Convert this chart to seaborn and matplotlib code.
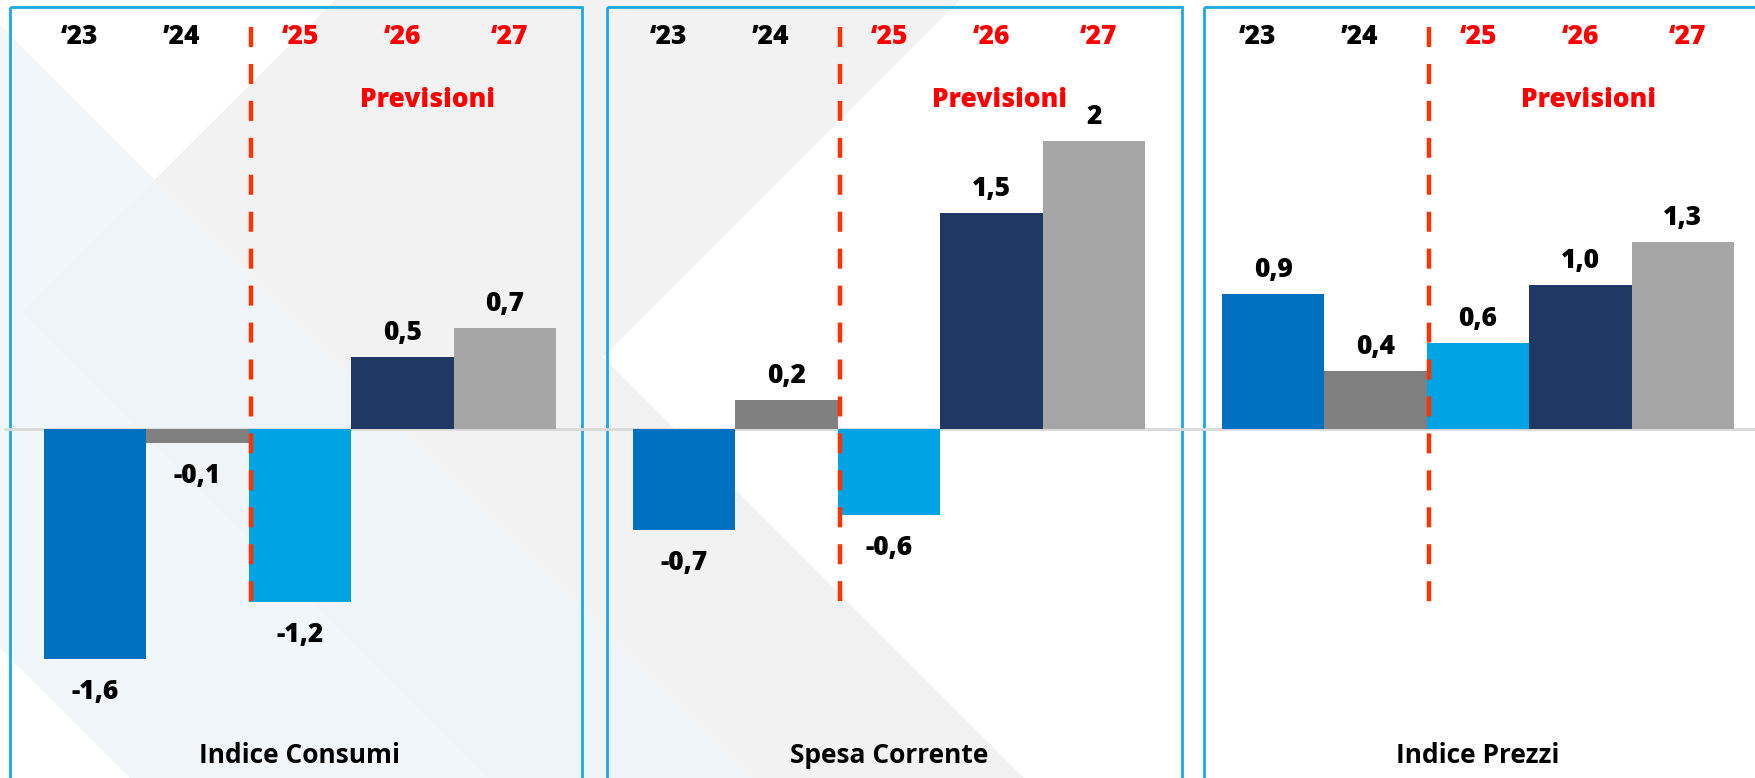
import matplotlib
matplotlib.use("Agg")
import matplotlib.pyplot as plt
import seaborn as sns
import pandas as pd
from matplotlib.patches import Polygon, Rectangle

# ---------------- data ----------------
years = ["‘23", "’24", "‘25", "‘26", "‘27"]
forecast = [False, False, True, True, True]
panel_titles = ["Indice Consumi", "Spesa Corrente", "Indice Prezzi"]
consumi = [-1.6, -0.1, -1.2, 0.5, 0.7]
spesa = [-0.7, 0.2, -0.6, 1.5, 2.0]
prezzi = [0.94, 0.4, 0.6, 1.0, 1.3]
consumi_labels = ["-1,6", "-0,1", "-1,2", "0,5", "0,7"]
spesa_labels = ["-0,7", "0,2", "-0,6", "1,5", "2"]
prezzi_labels = ["0,9", "0,4", "0,6", "1,0", "1,3"]
forecast_note = "Previsioni"
bar_colors = ["#0070C0", "#808080", "#00A3E4", "#203864", "#A6A6A6"]

panels = [
    (panel_titles[0], consumi, consumi_labels),
    (panel_titles[1], spesa, spesa_labels),
    (panel_titles[2], prezzi, prezzi_labels),
]

# ---------------- layout (pixels) ----------------
W, H, DPI = 1755, 778, 100
ZERO_Y = 429          # pixel row of the zero line (from top)
PPU = 144.0           # pixels per unit
AX_LEFTS = [44, 633, 1222]
AX_W = 512
BORDERS = [(10, 582), (607, 1182), (1204, 1800)]
BORDER_TOP = 7
BORDER_COLOR = "#1AA9E6"
RED = "#FF0000"
DASH_RED = "#FF3300"
GRID = "#D9D9D9"
YEAR_DX = [-16, -16, 0, 0, 5]
NOTE_X = [3.25, 3.08, 3.08]
FS = 19

sns.set_theme(style="white")
plt.rcParams["font.family"] = ["Open Sans", "DejaVu Sans"]

fig = plt.figure(figsize=(W / DPI, H / DPI), dpi=DPI)
fig.patch.set_facecolor("white")

# ---------------- decorative background ----------------
bg = fig.add_axes([0, 0, 1, 1], zorder=0)
bg.set_xlim(0, W)
bg.set_ylim(H, 0)
bg.axis("off")
chevron = Polygon([(335, 0), (960, 0), (603, 357), (1024, H), (488, H), (22, 312)],
                  closed=True, facecolor="#F2F2F2", edgecolor="none")
bg.add_patch(chevron)
blue_band = Polygon([(0, 25), (753, H), (130, H), (0, 648)], closed=True,
                    facecolor="#EEF5F9", edgecolor="none", alpha=0.85)
bg.add_patch(blue_band)
for (x0, x1) in BORDERS:
    bg.add_patch(Rectangle((x0, BORDER_TOP), x1 - x0, 900, fill=False,
                           edgecolor=BORDER_COLOR, linewidth=2.0, clip_on=True))

# ---------------- panels ----------------
ylo = -(H - ZERO_Y) / PPU
yhi = ZERO_Y / PPU
zero_spans = [(5, AX_LEFTS[1]), (AX_LEFTS[1], AX_LEFTS[2]), (AX_LEFTS[2], W)]

for p, (title, vals, labs) in enumerate(panels):
    left = AX_LEFTS[p]
    ax = fig.add_axes([left / W, 0, AX_W / W, 1], zorder=1)
    ax.patch.set_alpha(0)
    df = pd.DataFrame({"year": years, "value": vals})
    sns.barplot(data=df, x="year", y="value", hue="year", palette=bar_colors,
                dodge=False, width=1.0, saturation=1, legend=False,
                linewidth=0, ax=ax, zorder=2)
    ax.set_xlim(-0.5, 4.5)
    ax.set_ylim(ylo, yhi)
    ax.axis("off")

    # zero line spanning across the figure
    zs, ze = zero_spans[p]
    ax.axhline(0, xmin=(zs - left) / AX_W, xmax=(ze - left) / AX_W,
               color=GRID, linewidth=2.0, zorder=1, clip_on=False)

    # forecast divider
    ax.plot([1.52, 1.52], [(ZERO_Y - 27) / PPU, -(609 - ZERO_Y) / PPU],
            color=DASH_RED, linewidth=3.2, dashes=(14.4 / 3.2, 12.2 / 3.2),
            zorder=4)

    # value labels
    for j, (v, lab) in enumerate(zip(vals, labs)):
        dy = 17 if v >= 0 else -40
        ax.annotate(lab, xy=(j, v), xytext=(0, dy), textcoords="offset pixels",
                    ha="center", va="baseline", fontsize=FS, fontweight="heavy",
                    color="black", zorder=5)

    # year labels
    for j, yr in enumerate(years):
        ax.annotate(yr, xy=(j, 1), xycoords=("data", "axes fraction"),
                    xytext=(YEAR_DX[j], -44), textcoords="offset pixels",
                    ha="center", va="baseline", fontsize=FS, fontweight="heavy",
                    color=RED if forecast[j] else "black")

    # forecast note
    ax.annotate(forecast_note, xy=(NOTE_X[p], 1), xycoords=("data", "axes fraction"),
                xytext=(0, -107), textcoords="offset pixels",
                ha="center", va="baseline", fontsize=FS, fontweight="heavy",
                color=RED)

    # panel title
    ax.annotate(title, xy=(2, 0), xycoords=("data", "axes fraction"),
                xytext=(0, H - 763), textcoords="offset pixels",
                ha="center", va="baseline", fontsize=FS, fontweight="bold",
                color="black")

fig.savefig("out.png", dpi=DPI, facecolor="white")
